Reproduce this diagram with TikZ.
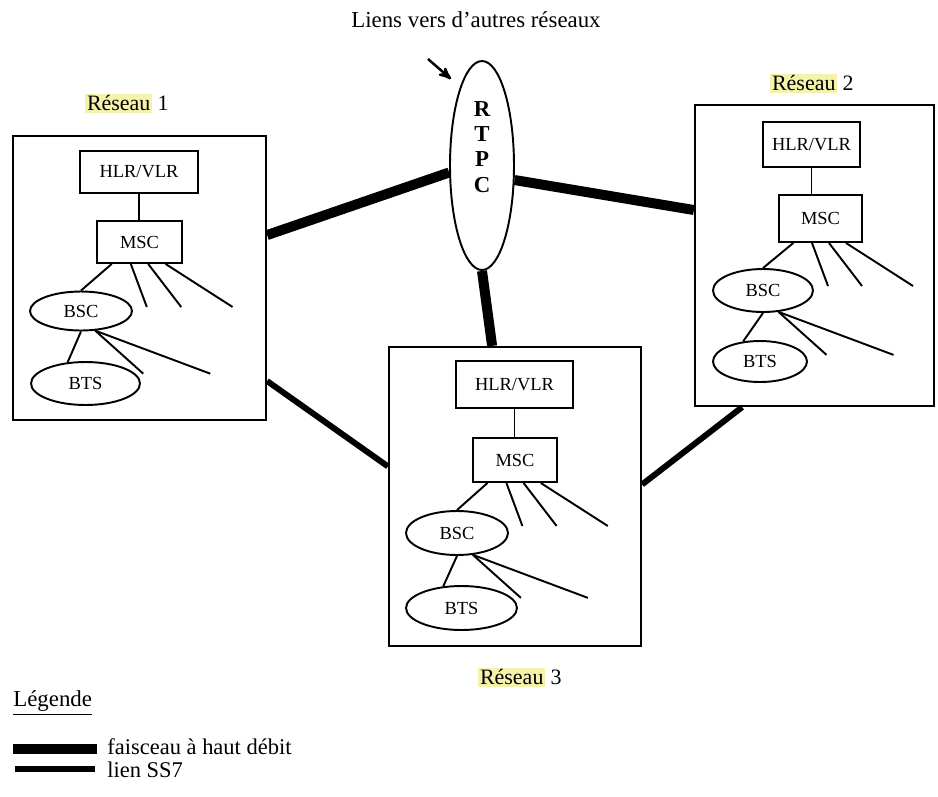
\documentclass[tikz,border=0pt]{standalone}
\usepackage{fontspec}
\setmainfont{Liberation Serif}
\usepackage{xcolor}
\usetikzlibrary{arrows,calc,shapes.geometric}
\definecolor{surligne}{RGB}{245,242,170}
\newcommand{\surl}[1]{{\setlength{\fboxsep}{1pt}\colorbox{surligne}{#1}}}

\begin{document}
\begin{tikzpicture}[x=0.02cm,y=-0.02cm,
  boite/.style={draw,line width=1.3pt,inner sep=0pt},
  rect/.style={draw,line width=1.1pt,inner sep=0pt,font=\fontsize{10.5}{12}\selectfont},
  ell/.style={draw,ellipse,line width=1.1pt,inner sep=0pt,font=\fontsize{10.5}{12}\selectfont},
  faisceau/.style={line width=5.7pt},
  ss7/.style={line width=3.4pt},
  fil/.style={line width=1.1pt},
  etiq/.style={font=\fontsize{12.5}{14}\selectfont}]
\useasboundingbox (0,0) rectangle (938,796);

\node[font=\fontsize{13}{15}\selectfont] (titre) at (476,20) {Liens vers d'autres réseaux};

% RTPC
\node[ell,minimum width=1.28cm,minimum height=4.18cm] (rtpc) at (482,165.5) {};
\node[font=\bfseries\fontsize{13}{14.3}\selectfont,align=center] (rtpcnom) at (482,147) {R\\T\\P\\C};
\coordinate (flechea) at (428,59);
\coordinate (flecheb) at (451,79);
\draw[->,>=stealth',line width=1.4pt] (flechea) -- (flecheb);

% Reseau 1
\node[etiq] (nom1) at (127,103) {\surl{Réseau} 1};
\node[boite,minimum width=5.06cm,minimum height=5.68cm] (reseau1) at (139.5,278) {};
\node[rect,minimum width=2.36cm,minimum height=0.84cm] (hlr1) at (139,172) {HLR/VLR};
\node[rect,minimum width=1.7cm,minimum height=0.84cm] (msc1) at (139.5,242) {MSC};
\node[ell,minimum width=2.04cm,minimum height=0.78cm] (bsc1) at (81,311) {BSC};
\node[ell,minimum width=2.18cm,minimum height=0.86cm] (bts1) at (85.5,383.5) {BTS};

% Reseau 2
\node[etiq] (nom2) at (812,83) {\surl{Réseau} 2};
\node[boite,minimum width=4.78cm,minimum height=6.02cm] (reseau2) at (814.5,255.5) {};
\node[rect,minimum width=1.94cm,minimum height=0.9cm] (hlr2) at (811.5,144.5) {HLR/VLR};
\node[rect,minimum width=1.66cm,minimum height=0.94cm] (msc2) at (820.5,218.5) {MSC};
\node[ell,minimum width=2cm,minimum height=0.86cm] (bsc2) at (763,290.5) {BSC};
\node[ell,minimum width=1.88cm,minimum height=0.82cm] (bts2) at (760,361.5) {BTS};

% Reseau 3
\node[etiq] (nom3) at (520,677) {\surl{Réseau} 3};
\node[boite,minimum width=5.04cm,minimum height=5.98cm] (reseau3) at (515,496.5) {};
\node[rect,minimum width=2.34cm,minimum height=0.94cm] (hlr3) at (514.5,384.5) {HLR/VLR};
\node[rect,minimum width=1.68cm,minimum height=0.88cm] (msc3) at (515,460) {MSC};
\node[ell,minimum width=2.04cm,minimum height=0.88cm] (bsc3) at (457,533) {BSC};
\node[ell,minimum width=2.22cm,minimum height=0.88cm] (bts3) at (461.5,608) {BTS};

% liaisons internes
\foreach \n in {1,2,3}{
  \draw[fil] (hlr\n.south) -- (hlr\n.south |- msc\n.north);
  \draw[fil] ($(msc\n.south west)!0.18!(msc\n.south east)$) -- (bsc\n.north);
  \foreach \f/\dx [count=\i] in {0.4/16,0.6/33,0.8/67}{
    \coordinate (m\n\i) at ($(msc\n.south west)!\f!(msc\n.south east)$);
    \coordinate (mf\n\i) at ($(m\n\i)+(\dx,43)$);
    \draw[fil] (m\n\i) -- (mf\n\i);
  }
  \draw[fil] (bsc\n.south) -- (bts\n.130);
  \coordinate (bf\n1) at ($(bsc\n.-54)+(48,43)$);
  \coordinate (bf\n2) at ($(bsc\n.-54)+(115,43)$);
  \draw[fil] (bsc\n.-54) -- (bf\n1);
  \draw[fil] (bsc\n.-54) -- (bf\n2);
}

% faisceaux et liens SS7
\coordinate (r1a) at ($(reseau1.north east)!0.35!(reseau1.south east)$);
\coordinate (r1b) at ($(reseau1.north east)!0.86!(reseau1.south east)$);
\coordinate (r2a) at ($(reseau2.north west)!0.35!(reseau2.south west)$);
\coordinate (r2b) at ($(reseau2.south west)!0.2!(reseau2.south east)$);
\coordinate (r3a) at ($(reseau3.north west)!0.41!(reseau3.north east)$);
\coordinate (r3b) at ($(reseau3.north west)!0.4!(reseau3.south west)$);
\coordinate (r3c) at ($(reseau3.north east)!0.46!(reseau3.south east)$);
\draw[faisceau] (rtpc.192) -- (r1a);
\draw[faisceau] (rtpc.-24) -- (r2a);
\draw[faisceau] (rtpc.south) -- (r3a);
\draw[ss7] (r1b) -- (r3b);
\draw[ss7] (r3c) -- (r2b);

% legende
\node[anchor=west,inner sep=0pt,font=\fontsize{13}{15}\selectfont] (legende) at (13,703) {\underline{Légende}};
\node[anchor=west,inner sep=0pt,font=\fontsize{12.8}{15}\selectfont] (txtf) at (107,747) {faisceau à haut débit};
\node[anchor=west,inner sep=0pt,font=\fontsize{12.8}{15}\selectfont] (txts) at (107,770) {lien SS7};
\coordinate (legf) at (13,749);
\coordinate (legs) at (15,769);
\draw[faisceau,shorten >=0.2cm] (legf) -- (legf -| txtf.west);
\draw[ss7,shorten >=0.24cm] (legs) -- (legs -| txts.west);
\end{tikzpicture}
\end{document}
